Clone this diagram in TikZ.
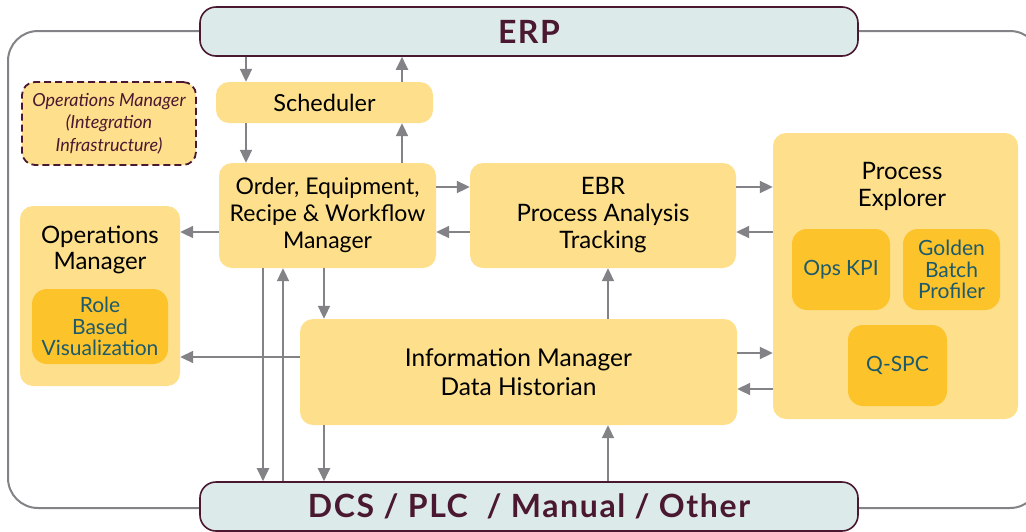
\documentclass[tikz,border=0pt]{standalone}
\usepackage{fontspec}
\setmainfont{Lato}
\usepackage{tikz}
\usetikzlibrary{arrows.meta,positioning,calc}
\definecolor{boxyellow}{HTML}{FDDF8C}
\definecolor{inneryellow}{HTML}{FDC32B}
\definecolor{barfill}{HTML}{DCEAE9}
\definecolor{maroon}{HTML}{4A1830}
\definecolor{tealtext}{HTML}{1C5A6C}
\definecolor{flowgray}{HTML}{838387}

\begin{document}
\begin{tikzpicture}[x=1pt, y=-1pt, >={Triangle[length=13pt,width=12pt]},
    box/.style = {fill=boxyellow, rounded corners=13pt, inner sep=0pt, align=center, font=\fontsize{24}{27}\selectfont},
    inner/.style = {fill=inneryellow, rounded corners=15pt, inner sep=0pt, align=center, text=tealtext, font=\fontsize{21}{21.5}\selectfont},
    title/.style = {align=center, inner sep=0pt, font=\fontsize{24}{26.5}\selectfont},
    bar/.style = {draw=maroon, line width=1.6pt, fill=barfill, rounded corners=16pt, minimum width=658pt, minimum height=49pt, text=maroon, font=\fontsize{32}{36}\selectfont\bfseries\addfontfeatures{LetterSpace=5}},
    flow/.style = {->, draw=flowgray, line width=2pt}]
    \useasboundingbox (0,0) rectangle (1026,531);

    % frame round everything
    \draw[flowgray, line width=2pt, rounded corners=30pt] (8,31) rectangle (1040,508);

    % ERP and field level
    \node[bar] (erp) at (529,31.5) {ERP};
    \node[bar] (dcs) at (529,506.5) {DCS / PLC \ / Manual / Other};

    % Nodes
    \node[box, draw=maroon, dash pattern=on 7pt off 4pt, line width=1.8pt, minimum width=174pt, minimum height=83pt, text=maroon, font=\fontsize{18}{22.5}\selectfont\itshape] (intinf) at (109,123.5) {Operations Manager\\(Integration\\Infrastructure)};
    \node[box, minimum width=217pt, minimum height=41pt, font=\fontsize{23.5}{25}\selectfont] (sched) at (324.5,102.5) {Scheduler};
    \node[box, minimum width=217pt, minimum height=105pt, font=\fontsize{23}{27}\selectfont] (order) at (327.5,215.5) {Order, Equipment,\\Recipe \& Workflow\\Manager};
    \node[box, minimum width=266pt, minimum height=105pt] (ebr) at (603,215.5) {EBR\\Process Analysis\\Tracking};
    \node[box, minimum width=437pt, minimum height=106pt, font=\fontsize{24.5}{29}\selectfont] (info) at (518.5,372) {Information Manager\\Data Historian};
    \node[box, minimum width=160pt, minimum height=180pt] (opsman) at (100,296) {};
    \node[box, minimum width=245pt, minimum height=286pt] (pe) at (895.5,276) {};

    % titles of the two groups
    \node[title] (opsmantitle) at (100,250) {Operations\\Manager};
    \node[title] (petitle) at (902,186.5) {Process\\Explorer};

    % modules inside the groups
    \node[inner, minimum width=136pt, minimum height=75pt] (rbv) at (100,326.5) {Role\\Based\\Visualization};
    \node[inner, minimum width=98pt, minimum height=81pt] (kpi) at (841,269.5) {Ops KPI};
    \node[inner, minimum width=97pt, minimum height=81pt] (gbp) at (951.5,269.5) {Golden\\Batch\\Profiler};
    \node[inner, minimum width=99pt, minimum height=81pt] (qspc) at (897.5,365.5) {Q-SPC};

    % columns and rows of the connectors
    \coordinate (xa) at (246,0);
    \coordinate (xb) at (402,0);
    \coordinate (xc) at (263,0);
    \coordinate (xd) at (283,0);
    \coordinate (xe) at (324,0);
    \coordinate (xf) at (608,0);
    \coordinate (ya) at (0,187);
    \coordinate (yb) at (0,232);
    \coordinate (yc) at (0,357);
    \coordinate (yd) at (0,353);
    \coordinate (ye) at (0,389);

    % Directed edges
    \draw[flow] (erp.south -| xa) -- (sched.north -| xa);
    \draw[flow] (sched.north -| xb) -- (erp.south -| xb);
    \draw[flow] (sched.south -| xa) -- (order.north -| xa);
    \draw[flow] (order.north -| xb) -- (sched.south -| xb);
    \draw[flow] (order.east |- ya) -- (ebr.west |- ya);
    \draw[flow] (ebr.west |- yb) -- (order.east |- yb);
    \draw[flow] (order.west |- yb) -- (opsman.east |- yb);
    \draw[flow] (ebr.east |- ya) -- (pe.west |- ya);
    \draw[flow] (pe.west |- yb) -- (ebr.east |- yb);
    \draw[flow] (order.south -| xc) -- (dcs.north -| xc);
    \draw[flow] (dcs.north -| xd) -- (order.south -| xd);
    \draw[flow] (order.south -| xe) -- (info.north -| xe);
    \draw[flow] (info.south -| xe) -- (dcs.north -| xe);
    \draw[flow] (info.north -| xf) -- (ebr.south -| xf);
    \draw[flow] (dcs.north -| xf) -- (info.south -| xf);
    \draw[flow] (info.west |- yc) -- (opsman.east |- yc);
    \draw[flow] (info.east |- yd) -- (pe.west |- yd);
    \draw[flow] (pe.west |- ye) -- (info.east |- ye);
\end{tikzpicture}
\end{document}
